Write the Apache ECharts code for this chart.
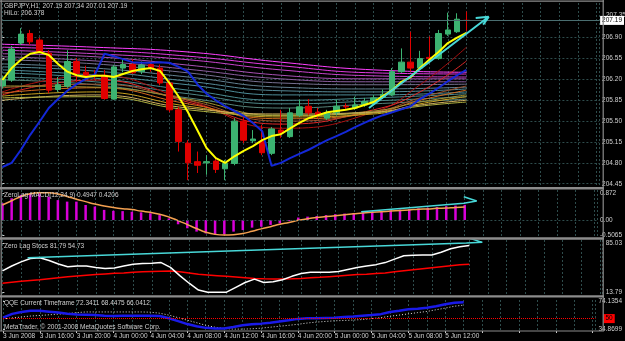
<!DOCTYPE html>
<html>
<head>
<meta charset="utf-8">
<title>GBPJPY H1</title>
<script src="https://cdn.jsdelivr.net/npm/echarts@6.0.0/dist/echarts.min.js"></script>
<style>
  html, body { margin: 0; padding: 0; background: #000; }
  #main { width: 625px; height: 341px; }
</style>
</head>
<body>
<div id="main"></div>
<script>
// GBPJPY H1, one bar per hour starting 3 Jun 2008 12:00
const timeLabels = ['3 Jun 2008', '3 Jun 16:00', '3 Jun 20:00', '4 Jun 00:00', '4 Jun 04:00', '4 Jun 08:00',
  '4 Jun 12:00', '4 Jun 16:00', '4 Jun 20:00', '5 Jun 00:00', '5 Jun 04:00', '5 Jun 08:00', '5 Jun 12:00']

const opens = [206.09, 206.19, 206.81, 206.97, 206.86, 206.64, 206.03, 206.09, 206.50, 206.32,
  206.27, 206.27, 205.87, 206.39, 206.45, 206.33, 206.45, 206.39, 206.14, 205.69,
  205.13, 204.82, 204.80, 204.83, 204.70, 204.79, 205.50, 205.17, 205.16, 204.96,
  205.35, 205.24, 205.60, 205.75, 205.65, 205.55, 205.64, 205.75, 205.72, 205.77,
  205.80, 205.90, 205.94, 206.33, 206.49, 206.39, 206.57, 206.55, 206.96, 207.00, 207.19]
const closes = [206.21, 206.71, 206.96, 206.83, 206.67, 206.02, 206.11, 206.50, 206.30, 206.27,
  206.26, 205.88, 206.41, 206.45, 206.31, 206.44, 206.39, 206.14, 205.69, 205.16,
  204.80, 204.76, 204.82, 204.69, 204.79, 205.50, 205.18, 205.20, 204.97, 205.37,
  205.30, 205.64, 205.74, 205.64, 205.60, 205.64, 205.75, 205.74, 205.77, 205.83,
  205.89, 205.95, 206.33, 206.49, 206.39, 206.55, 206.55, 206.97, 207.03, 207.21, 207.19]
const lows = [206.05, 206.16, 206.78, 206.78, 206.64, 205.97, 205.99, 206.06, 206.16, 206.22,
  206.19, 205.86, 205.86, 206.32, 206.29, 206.29, 206.33, 206.10, 205.65, 204.99,
  204.51, 204.63, 204.60, 204.63, 204.51, 204.76, 205.13, 205.13, 204.93, 204.93,
  205.22, 205.22, 205.57, 205.60, 205.55, 205.52, 205.60, 205.69, 205.69, 205.74,
  205.77, 205.87, 205.92, 206.31, 206.33, 206.36, 206.53, 206.53, 206.93, 206.98, 207.01]
const highs = [206.26, 206.76, 207.06, 207.03, 206.90, 206.69, 206.24, 206.69, 206.56, 206.43,
  206.36, 206.36, 206.44, 206.53, 206.54, 206.50, 206.50, 206.45, 206.19, 205.74,
  205.18, 204.99, 204.93, 204.90, 204.85, 205.55, 205.57, 205.35, 205.44, 205.40,
  205.69, 205.72, 205.86, 205.87, 205.72, 205.69, 205.86, 205.80, 205.91, 205.89,
  205.94, 206.03, 206.39, 206.72, 207.00, 206.68, 206.92, 207.03, 207.32, 207.31, 207.34]

// fast MA (yellow) and zero-lag MA (blue), one value per bar
const yellowMA = [206.19, 206.39, 206.53, 206.63, 206.66, 206.61, 206.46, 206.33, 206.27, 206.24,
  206.26, 206.26, 206.24, 206.29, 206.34, 206.37, 206.39, 206.34, 206.14, 205.91,
  205.65, 205.35, 205.05, 204.88, 204.80, 204.91, 205.00, 205.08, 205.18, 205.25,
  205.28, 205.38, 205.47, 205.55, 205.60, 205.65, 205.67, 205.69, 205.72, 205.77,
  205.82, 205.92, 206.02, 206.16, 206.24, 206.39, 206.53, 206.66, 206.81, 206.90, 206.98]
const blueMA = [204.73, 204.80, 205.02, 205.27, 205.49, 205.72, 205.87, 206.01, 206.12, 206.21,
  206.29, 206.63, 206.59, 206.54, 206.49, 206.48, 206.48, 206.49, 206.48, 206.41,
  206.33, 206.12, 205.96, 205.85, 205.75, 205.67, 205.59, 205.47, 205.33, 204.75,
  204.80, 204.88, 204.95, 205.02, 205.10, 205.18, 205.25, 205.32, 205.40, 205.47,
  205.54, 205.60, 205.65, 205.70, 205.75, 205.87, 205.96, 206.06, 206.17, 206.27, 206.36]

// slow rainbow ribbon, read at bars 0,10,20,30,40,50 (top line first)
const slowBars = [0, 10, 20, 30, 40, 50]
const slow1 = [206.79, 206.74, 206.66, 206.49, 206.36, 206.32]
const slow2 = [206.74, 206.69, 206.59, 206.43, 206.31, 206.29]
const slow3 = [206.69, 206.63, 206.53, 206.36, 206.26, 206.24]
const slow4 = [206.63, 206.58, 206.44, 206.27, 206.21, 206.21]
const slow5 = [206.58, 206.51, 206.37, 206.21, 206.16, 206.16]
const slow6 = [206.53, 206.46, 206.31, 206.14, 206.11, 206.12]
const slow7 = [206.46, 206.39, 206.24, 206.07, 206.04, 206.07]
const slow8 = [206.41, 206.34, 206.17, 206.01, 205.99, 206.04]
const slow9 = [206.36, 206.27, 206.11, 205.94, 205.94, 205.99]
const slow10 = [206.31, 206.22, 206.02, 205.85, 205.89, 205.96]
const slow11 = [206.24, 206.16, 205.96, 205.79, 205.84, 205.91]
const slow12 = [206.19, 206.11, 205.89, 205.72, 205.79, 205.87]

// fast warm ribbon, read at bars 0,10,20,30,40,45,50
const fastBars = [0, 10, 20, 30, 40, 45, 50]
const fast1 = [205.99, 206.27, 205.85, 205.38, 205.65, 206.11, 206.74]
const fast2 = [205.94, 206.19, 205.82, 205.45, 205.69, 205.99, 206.51]
const fast3 = [206.06, 206.12, 205.85, 205.50, 205.65, 205.89, 206.09]
const fast4 = [205.97, 206.06, 205.79, 205.54, 205.64, 205.85, 206.02]
const fast5 = [206.09, 206.07, 205.87, 205.59, 205.67, 205.82, 205.94]
const fast6 = [205.92, 205.99, 205.75, 205.57, 205.62, 205.79, 205.91]
const fast7 = [205.85, 205.94, 205.72, 205.62, 205.65, 205.77, 205.85]
const fast8 = [205.89, 205.91, 205.69, 205.60, 205.64, 205.75, 205.82]

// drawn trend lines with arrow heads: [bar, value]
const priceArrow = [[39.5, 205.72], [52.4, 207.25], [51.0, 207.23], [52.4, 207.25], [51.8, 207.12]]
const macdArrow = [[38.8, 0.27], [49.9, 0.55], [51.3, 0.62], [49.9, 0.76]]
const stochArrow = [[2.7, 64.1], [49.7, 85.5], [51.4, 86.4], [49.9, 93]]

// ZeroLag MACD
const macdHist = [0.55, 0.71, 0.82, 0.87, 0.87, 0.76, 0.65, 0.60, 0.60, 0.49,
  0.44, 0.33, 0.30, 0.29, 0.27, 0.25, 0.22, 0.16, 0.05, -0.14,
  -0.27, -0.38, -0.44, -0.47, -0.47, -0.38, -0.33, -0.25, -0.22, -0.16,
  -0.11, -0.03, 0.08, 0.11, 0.13, 0.16, 0.19, 0.21, 0.23, 0.25,
  0.27, 0.29, 0.32, 0.34, 0.36, 0.38, 0.40, 0.42, 0.45, 0.47, 0.4947]
const macdSignal = [0.49, 0.63, 0.77, 0.86, 0.89, 0.89, 0.85, 0.77, 0.68, 0.60,
  0.52, 0.46, 0.41, 0.37, 0.34, 0.29, 0.25, 0.19, 0.10, -0.02,
  -0.15, -0.28, -0.40, -0.47, -0.49, -0.48, -0.44, -0.37, -0.29, -0.22,
  -0.14, -0.08, -0.01, 0.04, 0.08, 0.11, 0.14, 0.17, 0.20, 0.23,
  0.25, 0.27, 0.29, 0.31, 0.33, 0.35, 0.36, 0.38, 0.39, 0.41, 0.4206]

// Zero Lag Stochastic
const stochMain = [45, 52, 58, 63, 64, 60, 55, 51, 52, 52,
  50, 48.5, 49, 52, 54.5, 55.5, 56, 57, 50, 38,
  27, 17, 14, 14, 14, 21, 28, 33, 28, 29,
  32, 37, 41, 43, 43, 43, 44, 47, 50, 52,
  54, 57, 62, 67, 67.5, 68, 68, 72, 77, 80, 81.79]
const stochSignal = [27, 28.5, 30, 31, 32, 33.5, 35, 36.5, 37.5, 38.5,
  39.5, 40.5, 41.5, 42, 43, 43.5, 44, 44.5, 44.7, 43.5,
  42, 40, 39, 38, 37, 36, 35, 34, 33.5, 33.2,
  33.2, 33.5, 34, 35, 35.5, 36.5, 37.5, 38.5, 39.5, 40,
  41, 42, 43.5, 45, 46.5, 48, 49.5, 51, 52.5, 53.8, 54.73]

// QQE
const qqeMain = [51.3, 56.5, 59.1, 60.8, 60.8, 59.5, 58.2, 56.5, 55.6, 55.2,
  54.8, 53.9, 53.5, 53.9, 53.9, 53.9, 53.9, 53.5, 50.4, 46.5,
  42.5, 39.5, 37.3, 36.5, 36.5, 38.6, 40.8, 42.2, 43.1, 44.4,
  46.1, 47.8, 49.6, 50.4, 50.4, 50.9, 51.3, 52.2, 53.0, 53.9,
  54.8, 56.1, 59.1, 60.8, 62.7, 63.5, 64.8, 67.0, 69.6, 71.8, 72.34]
const qqeSlow = [49.6, 50.9, 52.2, 53.5, 54.3, 55.2, 56.1, 56.9, 58.2, 59.1,
  59.1, 59.1, 59.1, 59.1, 59.1, 59.1, 58.8, 57.4, 54.8, 51.3,
  47.8, 44.4, 40.8, 38.2, 36.5, 35.6, 35.6, 36.0, 36.9, 38.2,
  39.5, 40.8, 42.2, 43.9, 45.2, 46.1, 47.0, 47.4, 48.0, 48.7,
  50.0, 51.3, 53.3, 54.8, 56.5, 58.2, 59.8, 62.1, 64.4, 67.0, 68.45]

const priceTicks = [204.45, 204.80, 205.15, 205.50, 205.85, 206.20, 206.55, 206.90]
const macdTicks = [-0.5065, 0, 0.872]
const stochTicks = [13.79, 85.03]
const qqeTicks = [34.8699, 74.1354]

const GREY = '#8c8c8c'
const GRID = '#2e4c4c'
const TXT = '#d0d0d0'
const FONT = 'Liberation Sans'
const BARS_SHOWN = 64.3

let myChart = echarts.init(document.getElementById('main'))

const seq = arr => arr.map((v, i) => [i, v])
const at = (xs, ys) => ys.map((v, i) => [xs[i], v])

// data axis of each pane: dashed grid every 2 bars, no labels
function xAxisFor (gridIndex) {
  return {
    type: 'value',
    gridIndex: gridIndex,
    position: 'bottom',
    min: 0,
    max: BARS_SHOWN,
    interval: 2,
    axisLine: { show: false },
    axisTick: { show: false },
    axisLabel: { show: false },
    splitLine: { show: true, lineStyle: { color: GRID, type: [2, 2], width: 1 } }
  }
}

// time scale under the last pane, a label every 4 bars
const timeAxis = {
  type: 'value',
  gridIndex: 3,
  position: 'bottom',
  offset: 0,
  min: 0,
  max: BARS_SHOWN,
  interval: 4,
  axisLine: { show: false },
  axisTick: { show: true, length: 2, lineStyle: { color: TXT } },
  splitLine: { show: false },
  axisLabel: {
    color: TXT,
    fontSize: 6.5,
    fontFamily: FONT,
    margin: 2,
    align: 'left',
    showMaxLabel: false,
    formatter: function (v) {
      return v / 4 < timeLabels.length ? timeLabels[v / 4] : ''
    }
  }
}

function yAxisFor (gridIndex, min, max, ticks, fmt, grid) {
  return {
    type: 'value',
    gridIndex: gridIndex,
    position: 'right',
    min: min,
    max: max,
    axisLine: { show: false },
    axisTick: { show: true, length: 2, customValues: ticks, lineStyle: { color: TXT } },
    axisLabel: { customValues: ticks, color: TXT, fontSize: 6.5, fontFamily: FONT, margin: 3, formatter: fmt },
    splitLine: { show: grid, lineStyle: { color: GRID, type: [2, 2], width: 1 } }
  }
}

const slowColors = ['#ff40ff', '#e23ae2', '#c844cc', '#a850b4', '#8c5ea0', '#767090',
  '#628090', '#568a98', '#4e8c98', '#4a8a90', '#4e8888', '#56847a']
const slowLines = [slow1, slow2, slow3, slow4, slow5, slow6, slow7, slow8, slow9, slow10, slow11, slow12]
const fastColors = ['#a81010', '#e02828', '#a0522d', '#d2691e', '#a09030', '#c8a020', '#d0b060', '#b0b040']
const fastLines = [fast1, fast2, fast3, fast4, fast5, fast6, fast7, fast8]

let series = []
slowLines.forEach(function (ys, k) {
  series.push({ type: 'line', xAxisIndex: 0, yAxisIndex: 0, data: at(slowBars, ys), smooth: true,
    symbol: 'none', lineStyle: { width: 1, color: slowColors[k] }, z: 2, silent: true })
})
fastLines.forEach(function (ys, k) {
  series.push({ type: 'line', xAxisIndex: 0, yAxisIndex: 0, data: at(fastBars, ys), smooth: true,
    symbol: 'none', lineStyle: { width: 1, color: fastColors[k] }, z: 2, silent: true })
})
series.push({
  type: 'candlestick',
  xAxisIndex: 0,
  yAxisIndex: 0,
  barWidth: 6,
  z: 3,
  data: opens.map((o, i) => [i, o, closes[i], lows[i], highs[i]]),
  itemStyle: { color: '#3cb371', color0: '#e00000', borderColor: '#3cb371', borderColor0: '#e00000', borderWidth: 1 },
  markLine: {
    silent: true,
    symbol: 'none',
    data: [{ yAxis: 207.19 }],
    lineStyle: { color: '#4a6e70', type: 'solid', width: 1 },
    label: { position: 'end', distance: 1, formatter: '207.19', color: '#000', backgroundColor: '#fff',
      fontSize: 6.5, fontFamily: FONT, padding: [1, 2, 1, 2] }
  }
})
series.push({ type: 'line', xAxisIndex: 0, yAxisIndex: 0, data: seq(blueMA), symbol: 'none',
  lineStyle: { width: 2, color: '#1428d8' }, z: 4 })
series.push({ type: 'line', xAxisIndex: 0, yAxisIndex: 0, data: seq(yellowMA), symbol: 'none',
  lineStyle: { width: 2, color: '#ffff00' }, z: 5 })
series.push({ type: 'line', xAxisIndex: 0, yAxisIndex: 0, data: priceArrow, symbol: 'none',
  lineStyle: { width: 2, color: '#48d8d8' }, z: 6 })

// MACD panel
series.push({ type: 'bar', xAxisIndex: 1, yAxisIndex: 1, data: seq(macdHist), barWidth: 2.5,
  itemStyle: { color: '#d800d8' },
  markLine: { silent: true, symbol: 'none', data: [{ yAxis: 0 }], label: { show: false },
    lineStyle: { color: GRID, type: [2, 2], width: 1 } } })
series.push({ type: 'line', xAxisIndex: 1, yAxisIndex: 1, data: seq(macdSignal), symbol: 'none', smooth: true,
  lineStyle: { width: 1.5, color: '#f4a050' }, z: 4 })
series.push({ type: 'line', xAxisIndex: 1, yAxisIndex: 1, data: macdArrow, symbol: 'none',
  lineStyle: { width: 1.5, color: '#48d8d8' }, z: 5 })

// Stoch panel
series.push({ type: 'line', xAxisIndex: 2, yAxisIndex: 2, data: seq(stochSignal), symbol: 'none',
  lineStyle: { width: 1.5, color: '#ff0000' }, z: 3 })
series.push({ type: 'line', xAxisIndex: 2, yAxisIndex: 2, data: seq(stochMain), symbol: 'none',
  lineStyle: { width: 1.5, color: '#ffffff' }, z: 4 })
series.push({ type: 'line', xAxisIndex: 2, yAxisIndex: 2, data: stochArrow, symbol: 'none',
  lineStyle: { width: 1.5, color: '#48d8d8' }, z: 5 })

// QQE panel
series.push({ type: 'line', xAxisIndex: 3, yAxisIndex: 3, data: seq(qqeSlow), symbol: 'none',
  lineStyle: { width: 1, color: '#e0e0e0', type: [1, 2] }, z: 3,
  markLine: { silent: true, symbol: 'none', data: [{ yAxis: 50 }],
    lineStyle: { color: '#ff0000', type: [1, 1], width: 1 },
    label: { position: 'end', distance: 8, formatter: '50', color: '#000', backgroundColor: '#ff0000',
      fontSize: 6.5, fontFamily: FONT, padding: [1, 2, 1, 2] } } })
series.push({ type: 'line', xAxisIndex: 3, yAxisIndex: 3, data: seq(qqeMain), symbol: 'none',
  lineStyle: { width: 2.5, color: '#1a1ae8' }, z: 4 })

const texts = [
  ['GBPJPY,H1  207.19 207.34 207.01 207.19', 4, 3],
  ['HiLo: 206.378', 4, 9.5],
  ['ZeroLag MACD(12,24,9) 0.4947 0.4206', 4, 192],
  ['Zero Lag Stocs 81.79 54.73', 4, 243],
  ['QQE Current Timeframe 72.3411 68.4475 66.0412', 4, 299.5],
  ['MetaTrader, \u00a9 2001-2008 MetaQuotes Software Corp.', 4, 323.5]
]

let graphic = texts.map(t => ({
  type: 'text', left: t[1], top: t[2], z: 100,
  style: { text: t[0], fill: TXT, fontSize: 6.5, fontFamily: FONT }
}))
// window frame and sub-window separators
const frame = [[0, 0.5, 604, 1.2], [0.6, 0, 1.2, 331], [602.6, 0, 1.2, 331],
  [0, 187, 604, 2.6], [0, 237.3, 604, 2.4], [0, 295.2, 604, 2.4], [0, 330.6, 604, 1]]
frame.forEach(r => graphic.push({ type: 'rect', z: 90, shape: { x: r[0], y: r[1], width: r[2], height: r[3] },
  style: { fill: GREY } }))
graphic.push({ type: 'text', left: 606, top: 12, z: 1, style: { text: '207.35', fill: TXT, fontSize: 6.5, fontFamily: FONT } })

let option = {
  backgroundColor: '#000000',
  animation: false,
  grid: [
    { left: 2.4, right: 22, top: 3, height: 184 },
    { left: 2.4, right: 22, top: 190, height: 47 },
    { left: 2.4, right: 22, top: 240, height: 55 },
    { left: 2.4, right: 22, top: 300, height: 31 }
  ],
  xAxis: [xAxisFor(0), xAxisFor(1), xAxisFor(2), xAxisFor(3), timeAxis],
  yAxis: [
    yAxisFor(0, 204.395, 207.482, priceTicks, v => v.toFixed(2), true),
    yAxisFor(1, -0.556, 0.98, macdTicks, v => (v === 0 ? '0.00' : String(v)), false),
    yAxisFor(2, 9.86, 89.83, stochTicks, v => v.toFixed(2), false),
    yAxisFor(3, 33, 75.48, qqeTicks, v => v.toFixed(4), false)
  ],
  graphic: graphic,
  series: series
}
myChart.clear()
myChart.setOption(option)
</script>
</body>
</html>
